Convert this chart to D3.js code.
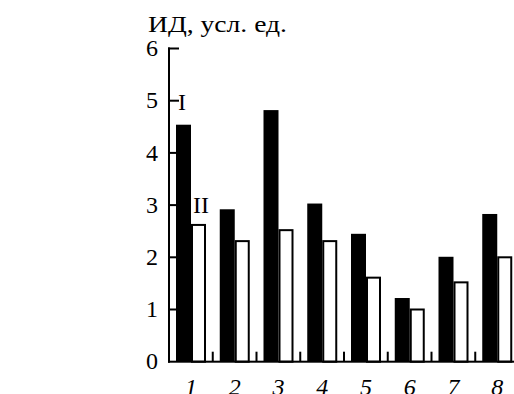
<!DOCTYPE html>
<html>
<head>
<meta charset="utf-8">
<script src="https://cdn.jsdelivr.net/npm/d3@7"></script>
<style>
  body { margin: 0; background: #fff; }
  svg text { font-family: "Liberation Serif", "Times New Roman", serif; fill: #000; }
</style>
</head>
<body>
<svg id="chart"></svg>
<script>
const groups = ["1", "2", "3", "4", "5", "6", "7", "8"];
const seriesI = [4.54, 2.92, 4.82, 3.03, 2.45, 1.22, 2.01, 2.83];
const seriesII = [2.62, 2.31, 2.52, 2.31, 1.61, 1.0, 1.52, 2.0];
const yTicks = [0, 1, 2, 3, 4, 5, 6];

const width = 514, height = 394;
const svg = d3.select("#chart").attr("width", width).attr("height", height);

const x = d3.scaleBand().domain(groups).range([169, 519]).padding(0);
const sub = d3.scaleBand().domain(["I", "II"]).range([7, 37]);
const y = d3.scaleLinear().domain([0, 6]).range([361.7, 48.5]);

const data = groups.map((g, i) => ({ g, I: seriesI[i], II: seriesII[i] }));

// bars
const grp = svg.selectAll(".grp").data(data).enter().append("g")
  .attr("transform", d => `translate(${x(d.g)},0)`);

grp.append("rect")
  .attr("x", sub("I"))
  .attr("y", d => y(d.I))
  .attr("width", sub.bandwidth())
  .attr("height", d => y(0) - y(d.I))
  .attr("fill", "#000");

grp.append("rect")
  .attr("x", sub("II") + 1)
  .attr("y", d => y(d.II))
  .attr("width", sub.bandwidth() - 2)
  .attr("height", d => y(0) - y(d.II))
  .attr("fill", "#fff")
  .attr("stroke", "#000")
  .attr("stroke-width", 2);

// y axis labels
const yAxis = d3.axisLeft(y).tickValues(yTicks).tickFormat(d3.format("d"))
  .tickSizeInner(0).tickSizeOuter(0).tickPadding(11);
const yg = svg.append("g").attr("transform", "translate(169,0)").call(yAxis);
yg.select(".domain").remove();
yg.selectAll(".tick line").remove();
yg.selectAll(".tick text").attr("x", -11).style("font-size", "24px").attr("dy", "0.3em");

// x axis labels
const xAxis = d3.axisBottom(x).tickSize(0);
const xg = svg.append("g").attr("transform", `translate(0,${y(0)})`).call(xAxis);
xg.select(".domain").remove();
xg.selectAll(".tick line").remove();
xg.selectAll(".tick text").attr("y", 33).attr("dy", null)
  .style("font-size", "24px").style("font-style", "italic");

// axis lines as thin filled rects
svg.append("rect")
  .attr("x", 168).attr("y", y(6) - 1)
  .attr("width", 2).attr("height", y(0) - y(6) + 2)
  .attr("fill", "#000");
svg.append("rect")
  .attr("x", 168).attr("y", y(0) - 1)
  .attr("width", width - 168).attr("height", 2)
  .attr("fill", "#000");

// y ticks pointing inward
svg.selectAll(".ytick").data(yTicks.slice(1)).enter().append("rect")
  .attr("x", 168).attr("y", d => y(d) - 1)
  .attr("width", 11).attr("height", 2)
  .attr("fill", "#000");

// group separator ticks
svg.selectAll(".sep").data(groups.slice(1)).enter().append("rect")
  .attr("x", d => x(d) - 1).attr("y", y(0) - 10)
  .attr("width", 2).attr("height", 10)
  .attr("fill", "#000");

// series labels
svg.append("text").attr("x", x("1") + sub("I") + 2).attr("y", 110)
  .style("font-size", "24px").text("I");
svg.append("text").attr("x", x("1") + sub("II") + 2).attr("y", 213)
  .style("font-size", "24px").text("II");

// axis title
svg.append("text").attr("x", 148).attr("y", 32)
  .attr("textLength", 139).attr("lengthAdjust", "spacingAndGlyphs")
  .style("font-size", "23px").text("ИД, усл. ед.");
</script>
</body>
</html>
